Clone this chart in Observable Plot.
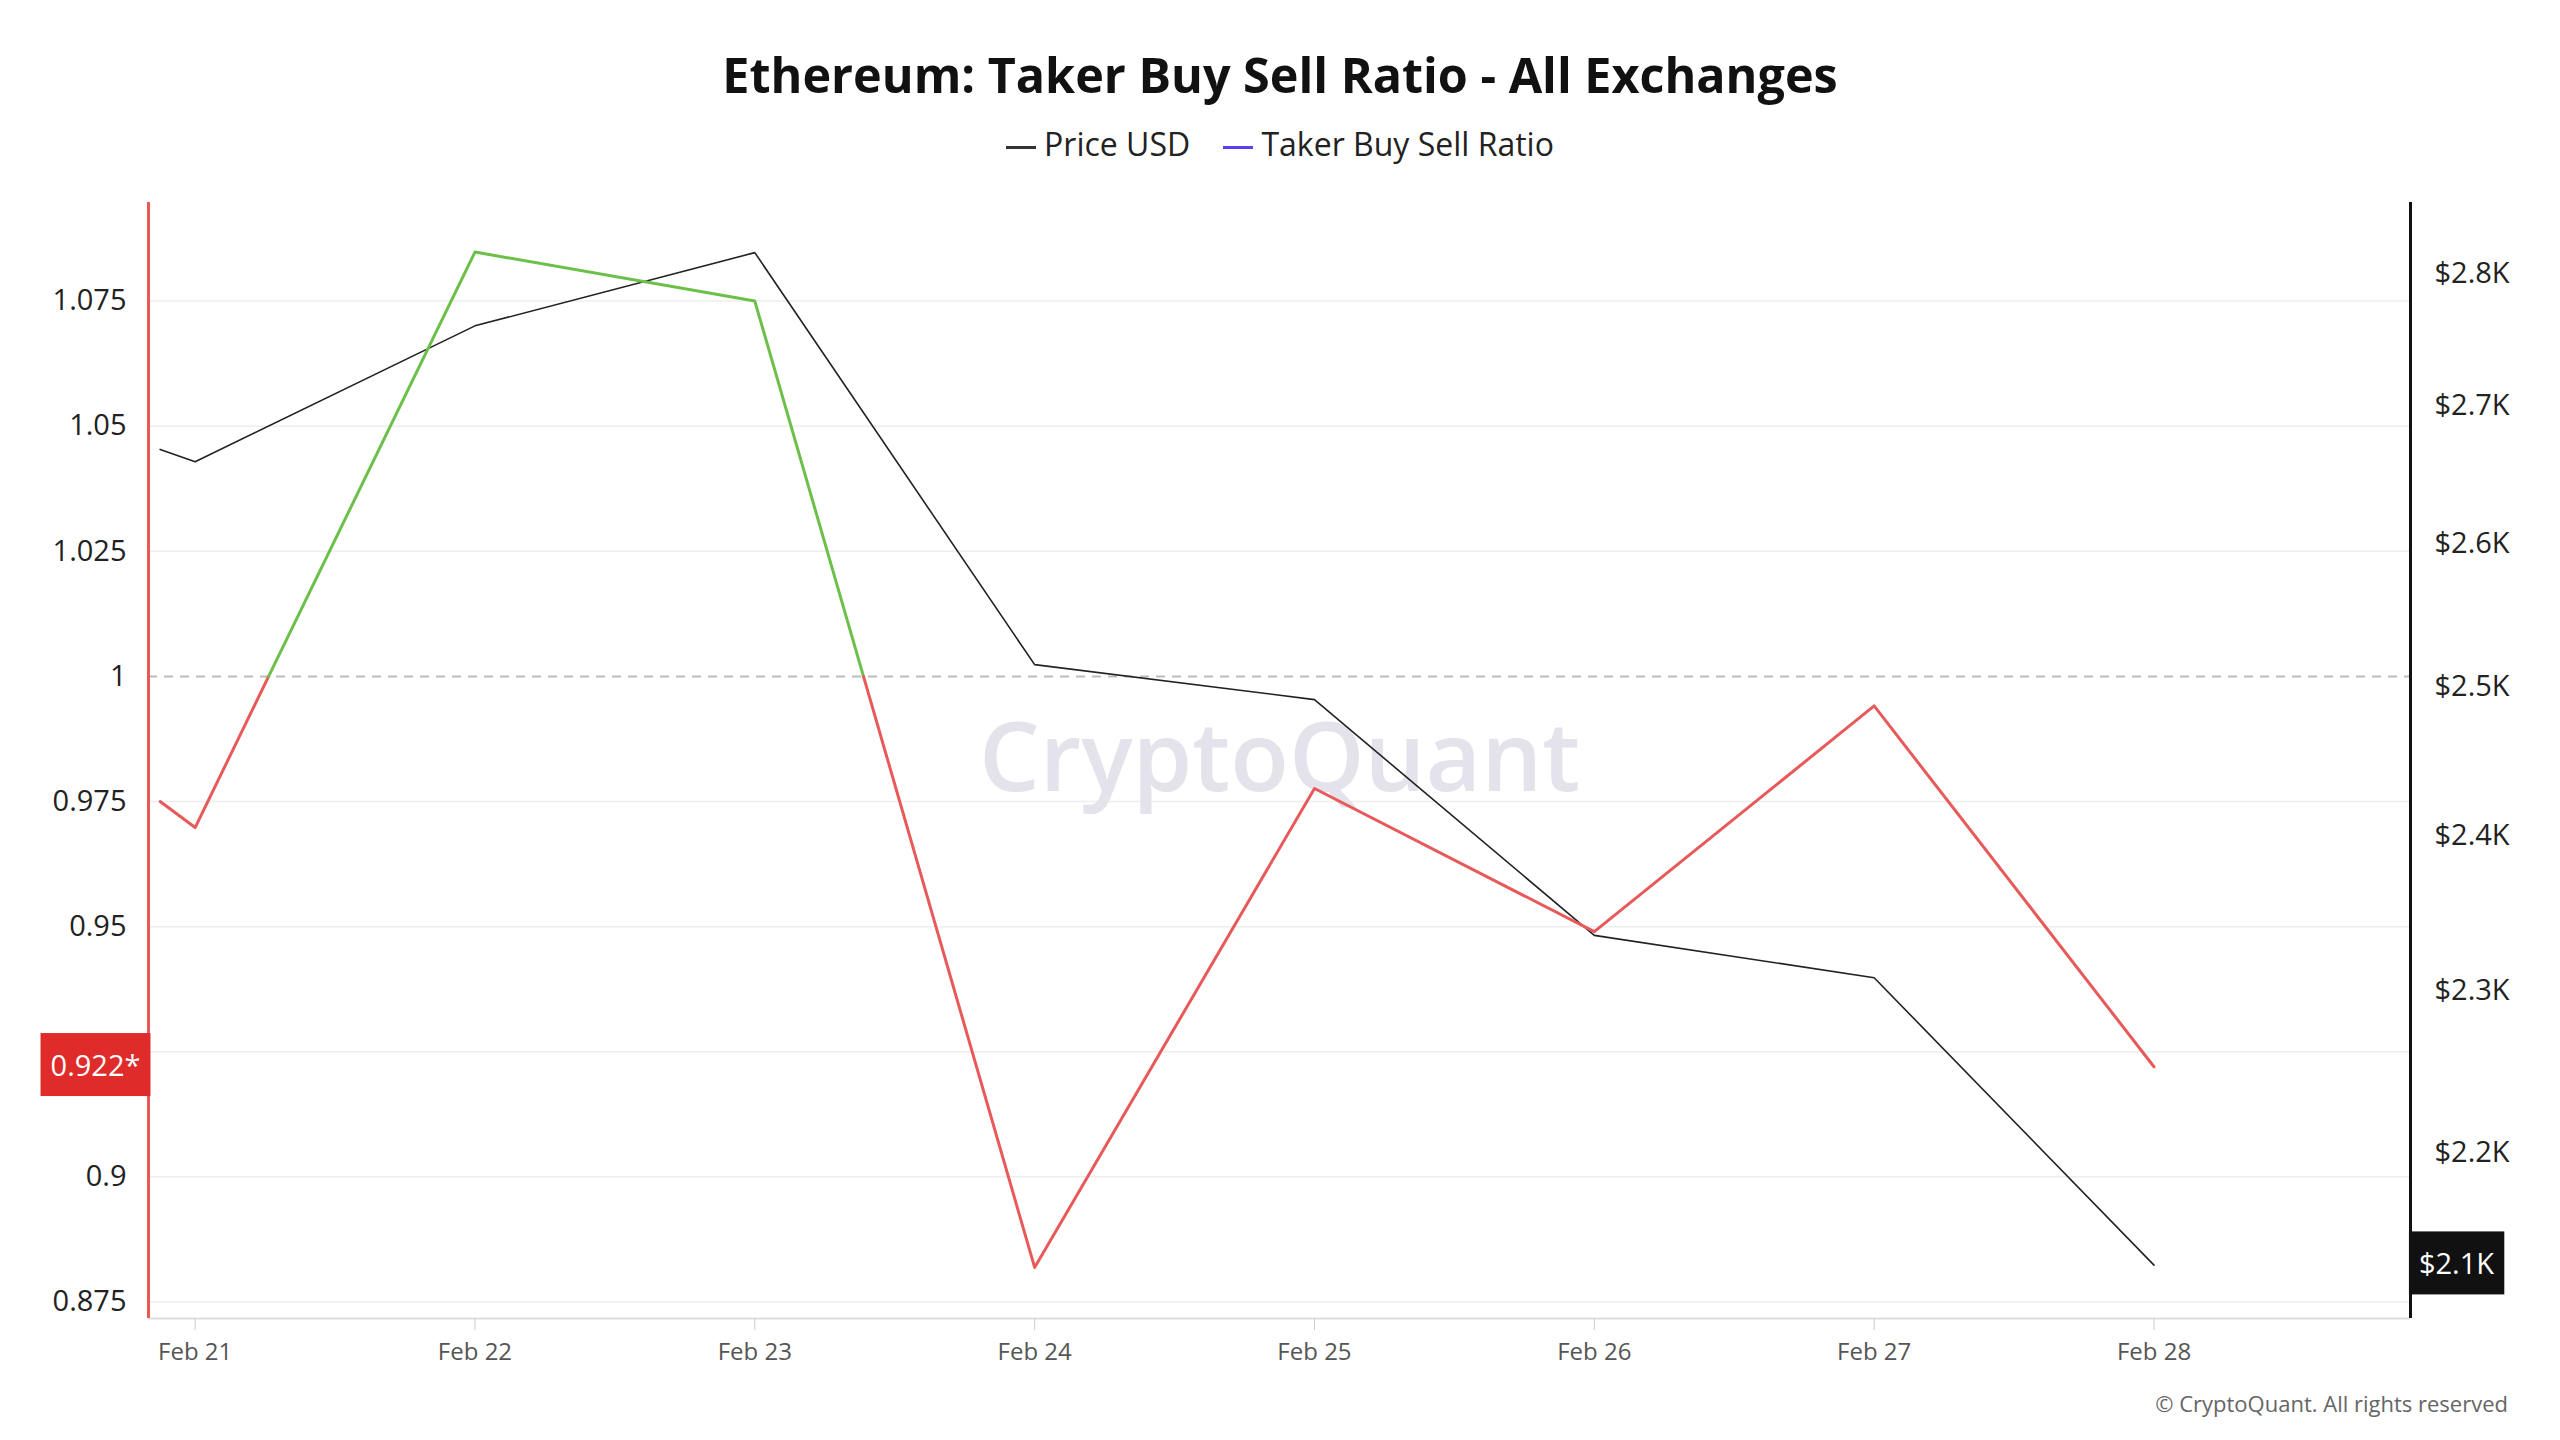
<!DOCTYPE html>
<html><head><meta charset="utf-8">
<script src="https://cdn.jsdelivr.net/npm/d3@7"></script>
<script src="https://cdn.jsdelivr.net/npm/@observablehq/plot@0.6"></script>
<style>
body{margin:0;background:#fff;font-family:"Open Sans",sans-serif;width:2560px;height:1440px;overflow:hidden;position:relative}
#title{position:absolute;top:41px;width:100%;text-align:center;font-size:48.5px;font-weight:700;color:#111}
#legend{position:absolute;top:122px;width:100%;text-align:center;font-size:32px;color:#222}
#legend span.sw{display:inline-block;width:30px;height:3px;vertical-align:middle;margin-right:8px}
#chart{position:absolute;top:180px;left:0}
#copy{position:absolute;top:1388px;right:52px;font-size:22px;color:#666}
</style></head><body>
<div id="title">Ethereum: Taker Buy Sell Ratio - All Exchanges</div>
<div id="legend"><span class="sw" style="background:#333"></span>Price USD &nbsp;&nbsp;&nbsp;<span class="sw" style="background:#5b3df5"></span>Taker Buy Sell Ratio</div>
<div id="chart"></div>
<div id="copy">© CryptoQuant. All rights reserved</div>
<script>
const dates = ["2025-02-20T21:00","2025-02-21","2025-02-22","2025-02-23","2025-02-24","2025-02-25","2025-02-26","2025-02-27","2025-02-28"];
const ratio = [0.975,0.9698,1.0848,1.075,0.8819,0.9776,0.949,0.9941,0.922];
const price = [2668,2659,2760,2816,2515,2491,2335,2308,2133];
const ratioTicks = [0.875,0.9,0.95,0.975,1,1.025,1.05,1.075];
const gridTicks = [0.875,0.9,0.925,0.95,0.975,1.025,1.05,1.075];
const priceTicks = [2200,2300,2400,2500,2600,2700,2800];
const priceTickLabels = ["$2.2K","$2.3K","$2.4K","$2.5K","$2.6K","$2.7K","$2.8K"];

const parse = s => new Date(s.length>10 ? s+"Z" : s+"T00:00Z");
const yDom = [0.8717, 1.0947];
const pDom = [2102, 2855];
const pMap = p => yDom[0] + (Math.log(p)-Math.log(pDom[0]))/(Math.log(pDom[1])-Math.log(pDom[0]))*(yDom[1]-yDom[0]);

const rows = dates.map((d,i)=>({date:parse(d), ratio:ratio[i], price:price[i], py:pMap(price[i])}));
const segs=[]; let seg=0;
for(let i=0;i<rows.length;i++){
  const r=rows[i];
  if(i>0){
    const a=rows[i-1];
    if((a.ratio-1)*(r.ratio-1)<0){
      const t=(1-a.ratio)/(r.ratio-a.ratio);
      const cd=new Date(+a.date + t*(r.date-a.date));
      segs.push({date:cd,ratio:1,seg,up:a.ratio>1});
      seg++;
      segs.push({date:cd,ratio:1,seg,up:r.ratio>1});
    }
  }
  segs.push({date:r.date,ratio:r.ratio,seg,up:r.ratio>1});
}
const last = rows[rows.length-1];
const xDom=[parse("2025-02-20T20:00"), parse("2025-02-28T22:00")];
const x0=xDom[0], x1=xDom[1];
const days = dates.slice(1).map(parse);

const chart = Plot.plot({
  width:2560, height:1260,
  marginTop:22, marginBottom:122, marginLeft:148, marginRight:150,
  style:{fontFamily:"Open Sans, sans-serif", fontSize:"29px", color:"#222", background:"transparent"},
  x:{type:"utc", domain:xDom},
  y:{domain:yDom},
  marks:[
    Plot.ruleY(gridTicks,{stroke:"#eee", strokeWidth:1.5}),
    Plot.ruleY([1],{stroke:"#bbb", strokeDasharray:"9,7", strokeWidth:2}),
    Plot.ruleY([yDom[0]],{stroke:"#ddd", strokeWidth:2}),
    Plot.text(["CryptoQuant"],{frameAnchor:"middle", dy:0, fontSize:96, fontWeight:600, fill:"#e4e2ea"}),
    Plot.axisX({ticks:days, tickFormat:d3.utcFormat("%b %d"), fontSize:24, fill:"#555", tickSize:12, stroke:"#ccc", tickPadding:12}),
    Plot.axisY({ticks:ratioTicks, tickFormat:d=>String(d), tickSize:0, tickPadding:22, fontSize:29}),
    Plot.axisY({anchor:"right", ticks:priceTicks.map(pMap), tickFormat:(d,i)=>priceTickLabels[i], tickSize:0, tickPadding:24, fontSize:29}),
    Plot.ruleX([x0],{stroke:"#e55", strokeWidth:3}),
    Plot.ruleX([x1],{stroke:"#111", strokeWidth:3}),
    Plot.line(rows,{x:"date", y:"py", stroke:"#222", strokeWidth:1.6}),
    Plot.line(segs,{x:"date", y:"ratio", z:"seg", stroke:d=>d.up?"#6cc04a":"#e85a5a", strokeWidth:3}),
    Plot.text([last],{x:()=>x0, y:"ratio", text:d=>d.ratio.toFixed(3)+"*", dx:-53, fill:"white", fontSize:29}),
    Plot.text([last],{x:()=>x1, y:"py", text:d=>"$"+(d.price/1000).toFixed(1)+"K", dx:46, fill:"white", fontSize:29})
  ]
});
document.getElementById("chart").append(chart);
const svg=d3.select(chart);
svg.selectAll("text").filter(function(){const t=this.textContent;return t==="0.922*"||t==="$2.1K";}).each(function(){
  const bb=this.getBBox(); const isRed=this.textContent.endsWith("*");
  const ctm=this.getAttribute("transform");
  const r=document.createElementNS("http://www.w3.org/2000/svg","rect");
  d3.select(r).attr("x",bb.x-10).attr("y",bb.y-12).attr("width",bb.width+20).attr("height",bb.height+24).attr("fill",isRed?"#e02b2b":"#111");
  if(ctm) r.setAttribute("transform",ctm);
  this.parentNode.insertBefore(r,this);
});
</script>
</body></html>
